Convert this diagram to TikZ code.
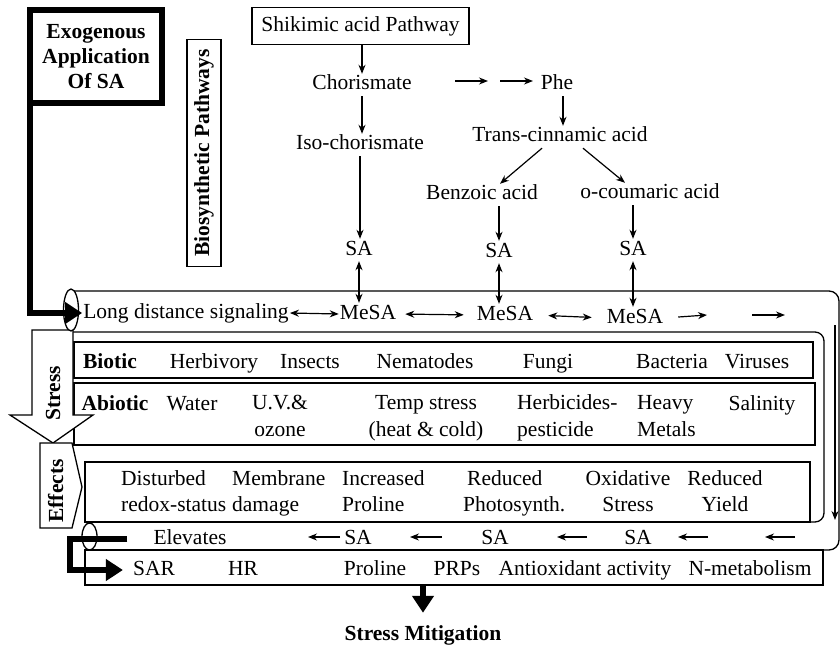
\documentclass[tikz,border=0pt]{standalone}
\usepackage{fontspec}
\setmainfont{Liberation Serif}
\usetikzlibrary{arrows.meta}
\newcommand{\myfs}{\fontsize{21.5}{26.5}\selectfont}
\newcommand{\lst}{\rule[-5pt]{0pt}{20pt}}
\begin{document}
\begin{tikzpicture}[x=1pt,y=-1pt,
  txt/.style={inner sep=1pt,font=\myfs,text height=15pt,text depth=5pt},
  btxt/.style={inner sep=1pt,font=\myfs\bfseries,text height=15pt,text depth=5pt},
  mtxt/.style={inner sep=1pt,font=\myfs},
  ln/.style={line width=1.3pt},
  arr/.style={line width=1.2pt,-{Stealth[length=9pt,width=7pt]}},
  darr/.style={line width=1.2pt,{Stealth[length=9pt,width=7pt]}-{Stealth[length=9pt,width=7pt]}},
  bigarr/.style={line width=6pt,-{Triangle[length=17pt,width=21pt]}},
  rowbox/.style={draw,line width=1.3pt,inner sep=0pt,outer sep=0pt}
]
\fill[white] (0,0) rectangle (840,647);
\useasboundingbox (0,0) rectangle (840,647);

% ---- band structure ----
\draw[ln,rounded corners=10pt] (71,291) -- (839,291) -- (839,550) -- (85,550);
\draw[ln,rounded corners=9pt] (71,332) -- (824,332) -- (824,522) -- (85,522);

\node[rowbox,minimum width=739pt,minimum height=36pt] (biobox) at (443.5,360) {};
\node[rowbox,minimum width=741pt,minimum height=62pt] (abiobox) at (444.5,414) {};
\node[rowbox,minimum width=725pt,minimum height=60pt] (effbox) at (447.5,492) {};
\node[rowbox,minimum width=738pt,minimum height=35pt] (sarbox) at (454,567.5) {};

% Stress arrow and Effects pentagon
\draw[ln,fill=white] (32,330) -- (73,330) -- (73,415) -- (93,415) -- (53,443) -- (10,415) -- (32,415) -- cycle;
\node[btxt,rotate=90] (stress) at (55,393) {Stress};
\draw[ln,fill=white] (40,443) -- (72,443) -- (82,487) -- (72,528) -- (40,528) -- cycle;
\node[btxt,rotate=90] (effects) at (58,491) {Effects};

% scroll ends
\draw[ln,fill=white] (71,310) ellipse [x radius=7.5,y radius=21];
\draw[ln,fill=white] (89.5,536.5) ellipse [x radius=7.5,y radius=13.5];

% right vertical arrow
\coordinate (r1) at (835,325);
\coordinate (r2) at (835,520);
\draw[arr] (r1) -- (r2);

% ---- top section ----
\node[draw,line width=6pt,outer sep=0pt,inner sep=0pt,minimum width=132pt,minimum height=93pt,align=center,font=\fontsize{21.5}{25}\selectfont\bfseries] (exo) at (96,56.5) {Exogenous\\Application\\Of SA};
\node[draw,ln,rotate=90,minimum width=227pt,minimum height=34pt,inner sep=0pt,font=\myfs\bfseries] (bio) at (204,153) {Biosynthetic Pathways};
\node[draw,ln,minimum width=217pt,minimum height=37pt,inner sep=0pt,font=\myfs] (shik) at (360.5,26) {Shikimic acid Pathway};

\node[txt] (chor) at (362,85) {Chorismate};
\node[txt] (iso) at (360,145) {Iso-chorismate};
\node[txt] (sa1) at (359,250) {SA};
\node[txt] (mesa1) at (368,314) {MeSA};
\node[txt] (lds) at (186,313) {Long distance signaling};
\node[txt] (phe) at (557,85) {Phe};
\node[txt] (trans) at (560,137) {Trans-cinnamic acid};
\node[txt] (benz) at (482,195) {Benzoic acid};
\node[txt] (ocou) at (650,194) {o-coumaric acid};
\node[txt] (sa2) at (499,252) {SA};
\node[txt] (sa3) at (633,250) {SA};
\node[txt] (mesa2) at (505,315) {MeSA};
\node[txt] (mesa3) at (635,318) {MeSA};

\draw[arr] (shik.south -| chor.north) -- (chor.north);
\draw[arr] (chor.south) -- (chor.south |- iso.north);
\draw[arr] (iso.south) -- (iso.south |- sa1.north);
\draw[darr] (sa1.south) -- (sa1.south |- mesa1.north);

\coordinate (c1) at (455,81);
\coordinate (c2) at (488,81);
\coordinate (c3) at (500,81);
\coordinate (c4) at (533,81);
\draw[arr] (c1) -- (c2);
\draw[arr] (c3) -- (c4);

\draw[arr] ([xshift=6pt]phe.south) -- ([xshift=6pt]phe.south |- trans.north);
\draw[arr] ([xshift=-18pt]trans.south) -- ([xshift=18pt]benz.north);
\draw[arr] ([xshift=23pt]trans.south) -- ([xshift=-25pt]ocou.north);
\draw[arr] (sa2.north |- benz.south) -- (sa2.north);
\draw[arr] (sa3.north |- ocou.south) -- (sa3.north);
\draw[darr] (sa2.south) -- (sa2.south |- mesa2.north);
\draw[darr] (sa3.south) -- (sa3.south |- mesa3.north);

\draw[darr] (lds.east) -- (mesa1.west);
\draw[darr,shorten <=8pt,shorten >=12pt] (mesa1.east) -- (mesa2.west);
\draw[darr,shorten <=14pt,shorten >=14pt] (mesa2.east) -- (mesa3.west);
\coordinate (m1) at (707,315);
\coordinate (m2) at (752,315);
\coordinate (m3) at (785,315);
\draw[arr,shorten <=14pt] (mesa3.east) -- (m1);
\draw[arr] (m2) -- (m3);

\draw[bigarr] (exo.south west) |- (lds.west);

% ---- Biotic row ----
\node[btxt] (biotic) at (110,363) {Biotic};
\node[txt] (herb) at (214,363) {Herbivory};
\node[txt] (insects) at (310,363) {Insects};
\node[txt] (nema) at (425,363) {Nematodes};
\node[txt] (fungi) at (548,363) {Fungi};
\node[txt] (bact) at (672,363) {Bacteria};
\node[txt] (vir) at (757,363) {Viruses};

% ---- Abiotic row ----
\node[btxt] (abiotic) at (115,405) {Abiotic};
\node[txt] (water) at (192,405) {Water};
\node[mtxt,align=center] (uv) at (280,418) {\lst U.V.\&\\\lst ozone};
\node[mtxt,align=center] (temp) at (426,418) {\lst Temp stress\\\lst (heat \& cold)};
\node[mtxt,align=left,anchor=west] (herbi) at (516,418) {\lst Herbicides-\\\lst pesticide};
\node[mtxt,align=left,anchor=west] (heavy) at (636,418) {\lst Heavy\\\lst Metals};
\node[txt] (sal) at (762,405) {Salinity};

% ---- Effects row ----
\node[mtxt,align=left,anchor=west] (dist) at (120,493.5) {\lst Disturbed\\\lst redox-status};
\node[mtxt,align=left,anchor=west] (memb) at (231,493.5) {\lst Membrane\\\lst damage};
\node[mtxt,align=left,anchor=west] (incr) at (341,493.5) {\lst Increased\\\lst Proline};
\node[mtxt,align=left,anchor=west] (redp) at (462,493.5) {\lst\hspace{4pt}Reduced\\\lst Photosynth.};
\node[mtxt,align=center] (oxid) at (628,493.5) {\lst Oxidative\\\lst Stress};
\node[mtxt,align=center] (redy) at (725,493.5) {\lst Reduced\\\lst Yield};

% ---- Elevates row ----
\node[txt] (elev) at (190,539) {Elevates};
\node[txt] (sa4) at (358,539) {SA};
\node[txt] (sa5) at (495,539) {SA};
\node[txt] (sa6) at (638,539) {SA};
\coordinate (ea) at (308,537);
\draw[arr,shorten <=3pt] (sa4.west |- ea) -- (ea);
\coordinate (eb1) at (442,537);
\coordinate (eb2) at (410,537);
\draw[arr] (eb1) -- (eb2);
\coordinate (ec1) at (587,537);
\coordinate (ec2) at (557,537);
\draw[arr] (ec1) -- (ec2);
\coordinate (ed1) at (708,537);
\coordinate (ed2) at (678,537);
\draw[arr] (ed1) -- (ed2);
\coordinate (ee1) at (795,537);
\coordinate (ee2) at (765,537);
\draw[arr] (ee1) -- (ee2);

% ---- SAR row ----
\node[txt] (sar) at (154,570) {SAR};
\node[txt] (hr) at (243,570) {HR};
\node[txt] (prol) at (375,570) {Proline};
\node[txt] (prps) at (457,570) {PRPs};
\node[txt] (anti) at (585,570) {Antioxidant activity};
\node[txt] (nmet) at (750,570) {N-metabolism};

\draw[bigarr,shorten >=9pt] ([xshift=-25pt]elev.west) -- ++(-57,0) |- (sar.west);

% ---- bottom ----
\node[btxt] (sm) at (423,635) {Stress Mitigation};
\draw[bigarr,shorten >=11pt] (sarbox.south -| sm.north) -- (sm.north);
\end{tikzpicture}
\end{document}
